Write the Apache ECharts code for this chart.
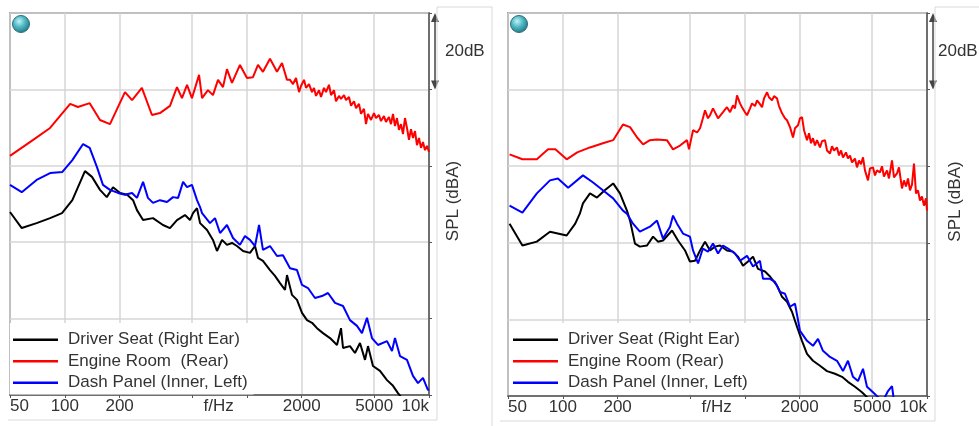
<!DOCTYPE html>
<html>
<head>
<meta charset="utf-8">
<title>SPL spectra</title>
<script src="https://cdn.jsdelivr.net/npm/echarts@6/dist/echarts.min.js"></script>
<style>
  html, body { margin: 0; padding: 0; background: #fff; }
  #chart { width: 979px; height: 426px; }
</style>
</head>
<body>
<div id="chart"></div>
<script>
// frequency axis (Hz) and labels
var tickFreqs = [50, 100, 200, 500, 1000, 2000, 5000, 10000];
var labelFreqs = [50, 100, 200, 700, 2000, 5000, 10000];
var labelText = {50: '50', 100: '100', 200: '200', 700: 'f/Hz', 2000: '2000', 5000: '5000', 10000: '10k'};

var leftNames = ['Driver Seat (Right Ear)', 'Engine Room  (Rear)', 'Dash Panel (Inner, Left)'];
var rightNames = ['Driver Seat (Right Ear)', 'Engine Room (Rear)', 'Dash Panel (Inner, Left)'];

// left panel, [Hz, dBA]
var leftDriver = [[50,67.9],[58,63.7],[70,65.0],[83,66.3],[96.5,67.6],[110,71.0],[129,78.6],[141,77.1],[156,73.7],[170,71.8],[184,74.4],[201,72.9],[220,72.4],[237,71.0],[249,68.4],[269,65.8],[305,66.3],[346,64.5],[378,63.7],[413,65.8],[457,67.1],[487,65.8],[506,67.6],[532,68.9],[553,65.0],[604,63.2],[651,60.6],[685,57.7],[730,60.6],[777,59.3],[828,59.8],[882,59.0],[952,57.7],[1040,57.2],[1108,59.0],[1150,55.9],[1225,55.1],[1339,52.7],[1426,51.2],[1520,49.3],[1619,47.5],[1660,51.4],[1769,46.2],[1884,44.9],[2007,41.5],[2138,39.6],[2278,38.9],[2426,37.5],[2617,36.2],[2860,34.9],[3124,33.1],[3287,37.5],[3372,32.3],[3681,32.8],[3922,31.0],[4178,33.6],[4452,29.2],[4623,32.8],[4924,27.6],[5381,26.3],[5880,23.9],[6344,22.4],[6755,20.5],[7380,18.2]];
var leftEngine = [[50,82.6],[67,86.8],[83,89.9],[107,96.2],[118,95.4],[137,96.4],[156,92.0],[177,90.9],[214,99.3],[234,97.2],[265,100.4],[301,93.3],[333,93.8],[378,95.7],[413,100.6],[440,97.7],[469,101.2],[499,97.7],[546,103.8],[567,97.7],[611,99.8],[651,98.5],[694,102.5],[739,100.6],[777,105.3],[828,101.7],[916,106.4],[1001,103.0],[1080,103.2],[1150,106.4],[1225,104.6],[1339,108.0],[1463,104.6],[1559,106.9],[1660,102.5],[1725,102.5],[1792,101.4],[1861,103.0],[1933,99.3],[1982,100.9],[2059,102.5],[2112,100.4],[2193,101.4],[2278,99.3],[2336,100.4],[2396,98.3],[2489,99.8],[2553,98.0],[2651,100.4],[2719,99.3],[2824,101.2],[2897,98.5],[3008,99.8],[3085,96.9],[3204,98.3],[3287,97.5],[3414,98.5],[3501,97.2],[3636,98.0],[3730,95.7],[3874,96.9],[3973,95.1],[4126,96.2],[4232,93.6],[4395,94.9],[4508,90.9],[4623,93.6],[4802,92.0],[4987,93.8],[5115,92.5],[5312,93.3],[5448,91.7],[5658,93.0],[5803,91.5],[6028,92.8],[6182,90.9],[6344,93.6],[6503,90.4],[6670,92.5],[6841,89.4],[7016,90.9],[7196,88.3],[7380,92.5],[7570,89.9],[7764,86.8],[7963,89.6],[8167,87.3],[8375,89.1],[8590,85.4],[8810,87.3],[9036,84.7],[9267,86.2],[9505,84.1],[9748,85.2],[10000,83.6]];
var leftDash = [[50,75.0],[58,73.1],[70,76.3],[83,78.1],[97,78.4],[110,81.5],[126,85.7],[137,84.7],[150,79.7],[162,75.0],[177,73.7],[196,72.9],[214,72.4],[234,72.9],[249,71.6],[269,75.8],[286,71.6],[305,70.3],[333,71.0],[364,70.5],[393,71.8],[419,71.6],[446,75.8],[469,74.4],[499,75.0],[532,71.0],[553,69.2],[567,67.6],[627,65.0],[668,66.3],[712,62.4],[777,64.5],[839,61.1],[916,59.3],[976,61.6],[1040,60.6],[1108,59.0],[1166,64.5],[1225,58.0],[1339,59.0],[1463,56.4],[1578,56.6],[1725,53.2],[1884,52.7],[2007,48.8],[2165,48.0],[2365,45.4],[2584,45.9],[2789,46.7],[3046,44.1],[3372,43.3],[3681,39.6],[4022,38.1],[4285,36.2],[4565,40.2],[4862,34.9],[5245,33.1],[5880,34.1],[6263,31.5],[6503,34.9],[6930,30.2],[7570,29.2],[8165,25.0],[8700,23.1],[9265,24.5],[9870,21.3],[10000,21.5]];

// right panel, [Hz, dBA]
var rightDriver = [[51,65.0],[60,59.3],[72,60.3],[85,62.9],[105,61.9],[117,65.0],[124,67.6],[129,70.3],[141,72.9],[154,71.8],[170,73.7],[189,75.5],[206,72.9],[225,68.4],[234,65.8],[249,59.8],[265,59.0],[290,59.3],[313,61.6],[333,60.3],[355,60.6],[398,63.2],[429,60.6],[469,58.0],[499,55.1],[532,55.3],[567,58.0],[604,60.3],[643,58.0],[685,59.0],[730,59.3],[797,58.0],[860,57.7],[916,56.4],[976,54.0],[1040,55.1],[1108,56.4],[1180,53.2],[1289,52.5],[1374,51.2],[1501,48.8],[1599,45.9],[1703,44.6],[1813,42.0],[1932,38.1],[2058,34.4],[2193,31.0],[2365,29.2],[2584,27.9],[2824,26.5],[3124,25.8],[3414,25.0],[3681,23.7],[4022,22.4],[4395,21.0],[4682,19.7],[4987,18.2]];
var rightEngine = [[51,83.1],[60,81.8],[72,81.8],[83,84.4],[91,84.4],[105,81.8],[120,83.6],[141,84.9],[166,86.0],[189,86.8],[214,90.9],[234,90.2],[256,87.5],[276,85.7],[301,86.8],[329,87.0],[373,86.8],[403,84.4],[440,85.4],[481,86.8],[493,84.4],[519,89.4],[546,88.8],[567,89.9],[588,92.5],[604,94.6],[627,92.5],[643,93.3],[668,95.1],[685,94.6],[712,92.5],[730,92.5],[758,94.1],[797,95.4],[829,94.1],[860,95.9],[882,95.1],[905,98.5],[940,96.4],[964,95.4],[1001,94.1],[1027,93.3],[1067,95.1],[1094,96.4],[1136,95.7],[1166,97.2],[1210,96.2],[1242,95.4],[1273,97.7],[1323,99.3],[1356,98.0],[1409,97.2],[1445,98.3],[1501,97.7],[1539,95.7],[1599,93.8],[1660,92.5],[1703,92.0],[1769,90.2],[1837,87.5],[1884,89.9],[1957,90.7],[2007,92.5],[2059,92.8],[2112,89.4],[2193,86.8],[2249,88.6],[2307,86.0],[2365,87.3],[2426,85.4],[2489,86.8],[2584,84.9],[2651,86.5],[2753,86.8],[2824,84.1],[2933,83.3],[3008,85.2],[3085,84.1],[3204,84.9],[3287,82.8],[3372,84.1],[3457,82.3],[3590,83.6],[3681,82.0],[3776,82.8],[3874,81.0],[4022,82.0],[4126,79.7],[4232,81.5],[4340,80.5],[4452,82.3],[4565,78.9],[4742,76.3],[4862,79.4],[5051,79.7],[5180,77.6],[5312,78.9],[5518,78.4],[5658,80.0],[5803,77.3],[6028,78.9],[6182,76.8],[6423,81.5],[6587,77.1],[6841,78.1],[7016,79.7],[7288,74.2],[7475,76.3],[7666,74.7],[7865,76.8],[8065,73.7],[8270,75.2],[8483,80.7],[8700,72.9],[8925,73.7],[9150,71.0],[9385,72.1],[9625,69.7],[9870,71.6],[10000,68.4]];
var rightDash = [[51,69.7],[60,67.9],[72,72.9],[85,76.3],[94,76.8],[107,74.4],[129,77.6],[146,75.8],[166,73.7],[189,71.6],[214,68.4],[225,67.6],[243,65.0],[265,62.9],[301,64.2],[329,65.8],[355,61.1],[388,64.2],[403,67.1],[424,65.0],[457,62.4],[499,61.6],[519,58.0],[553,54.6],[588,58.5],[627,57.7],[668,59.8],[712,57.2],[758,59.3],[808,58.5],[882,57.2],[940,55.3],[1027,56.6],[1108,53.8],[1210,55.3],[1257,50.6],[1374,50.6],[1463,49.8],[1559,47.2],[1660,46.7],[1769,43.3],[1884,44.1],[2007,37.0],[2193,34.4],[2365,33.1],[2520,34.9],[2684,31.8],[2933,30.2],[3204,29.2],[3457,26.5],[3681,29.2],[3922,25.0],[4178,23.9],[4452,27.1],[4682,22.4],[5051,21.0],[5381,19.7],[5732,18.7],[6108,21.3],[6423,22.6],[6590,18.7]];

var colors = ['#000000', '#ff0000', '#0000ff'];
var font = 'Liberation Sans, Arial, sans-serif';

var chart = echarts.init(document.getElementById('chart'));

function xAxisOf(i) {
	return {
		type: 'log', logBase: 10, gridIndex: i, min: 50, max: 10000,
		axisLine: { show: true, lineStyle: { color: '#555', width: 1.5 } },
		axisTick: { show: true, inside: false, length: 3, customValues: tickFreqs, lineStyle: { color: '#555' } },
		axisLabel: {
			customValues: labelFreqs, margin: 3, fontSize: 17, color: '#333', fontFamily: font,
			alignMinLabel: 'left', alignMaxLabel: 'right',
			formatter: function (v) { return labelText[Math.round(v)] || ''; }
		},
		splitLine: { show: true, lineStyle: { color: '#d6d6d6', width: 1.5 } },
		minorTick: { show: false }, minorSplitLine: { show: false }
	};
}
function yAxisOf(i, gap) {
	return {
		type: 'value', gridIndex: i, position: 'right', min: 20, max: 120, interval: 20,
		name: 'SPL (dBA)', nameLocation: 'middle', nameRotate: 90, nameGap: gap,
		nameTextStyle: { fontSize: 17, color: '#333', fontFamily: font, padding: [0, 0, 0, 6] },
		axisLine: { show: true, lineStyle: { color: '#555', width: 1.5 } },
		axisTick: { show: true, inside: false, length: 3, lineStyle: { color: '#555' } },
		axisLabel: { show: false },
		splitLine: { show: true, lineStyle: { color: '#d6d6d6', width: 1.5 } }
	};
}
function lineSeries(name, data, c, i) {
	return {
		name: name, type: 'line', xAxisIndex: i, yAxisIndex: i, data: data,
		showSymbol: false, symbol: 'none', clip: true, animation: false,
		color: colors[c], itemStyle: { color: colors[c] },
		lineStyle: { color: colors[c], width: 2 }
	};
}
function legendOf(names, left) {
	return {
		data: names, orient: 'vertical', left: left, top: 323,
		icon: 'rect', itemWidth: 45, itemHeight: 2.5, itemGap: 0,
		backgroundColor: '#fff', padding: [6, 6, 1, 3],
		selectedMode: false,
		textStyle: { fontSize: 17, color: '#333', fontFamily: font, lineHeight: 21.5, padding: [0, 0, 0, 5] }
	};
}

option = {
	backgroundColor: '#fff',
	animation: false,
	grid: [
		{ left: 10, top: 13, width: 419, height: 382, show: true, borderColor: '#555', borderWidth: 1.5 },
		{ left: 508, top: 13, width: 419, height: 383, show: true, borderColor: '#555', borderWidth: 1.5 }
	],
	xAxis: [xAxisOf(0), xAxisOf(1)],
	yAxis: [yAxisOf(0, 16), yAxisOf(1, 20)],
	legend: [legendOf(leftNames, 10), legendOf(rightNames, 510)],
	series: [
		lineSeries(leftNames[0], leftDriver, 0, 0),
		lineSeries(leftNames[1], leftEngine, 1, 0),
		lineSeries(leftNames[2], leftDash, 2, 0),
		lineSeries(rightNames[0], rightDriver, 0, 1),
		lineSeries(rightNames[1], rightEngine, 1, 1),
		lineSeries(rightNames[2], rightDash, 2, 1)
	]
};
chart.setOption(option);

// decorations: 20dB arrows, status dots, light frames
function decor() {
	var g = [];
	[0, 1].forEach(function (i) {
		var top = chart.convertToPixel({ gridIndex: i }, [10000, 120]);
		var low = chart.convertToPixel({ gridIndex: i }, [10000, 100]);
		var corner = chart.convertToPixel({ gridIndex: i }, [50, 120]);
		var ax = top[0] + 6;
		g.push({ type: 'line', shape: { x1: ax, y1: top[1] + 4, x2: ax, y2: low[1] - 4 }, style: { stroke: '#444', lineWidth: 1.5 } });
		g.push({ type: 'polygon', shape: { points: [[ax, top[1]], [ax - 4, top[1] + 9], [ax + 4, top[1] + 9]] }, style: { fill: '#444' } });
		g.push({ type: 'polygon', shape: { points: [[ax, low[1]], [ax - 4, low[1] - 9], [ax + 4, low[1] - 9]] }, style: { fill: '#444' } });
		g.push({ type: 'text', x: ax + (i === 0 ? 10 : 5), y: (top[1] + low[1]) / 2, style: { text: '20dB', fontSize: 17, fill: '#333', fontFamily: font, verticalAlign: 'middle' } });
		g.push({ type: 'circle', shape: { cx: corner[0] + 11, cy: corner[1] + 11, r: 8.5 },
			style: { stroke: '#2d6e78', lineWidth: 1,
				fill: new echarts.graphic.RadialGradient(0.4, 0.35, 0.7, [
					{ offset: 0, color: '#c4f1f5' }, { offset: 0.45, color: '#4fb9c6' }, { offset: 1, color: '#1f6f7c' }]) } });
	});
	var fr = { stroke: '#d9d9d9', lineWidth: 1 };
	g.push({ type: 'polyline', shape: { points: [[8, 420], [437, 420], [437, 7], [492, 7], [492, 426]] }, style: fr, silent: true });
	g.push({ type: 'polyline', shape: { points: [[500, 421], [935, 421], [935, 7], [979, 7]] }, style: fr, silent: true });
	chart.setOption({ graphic: g });
}
decor();
</script>
</body>
</html>
